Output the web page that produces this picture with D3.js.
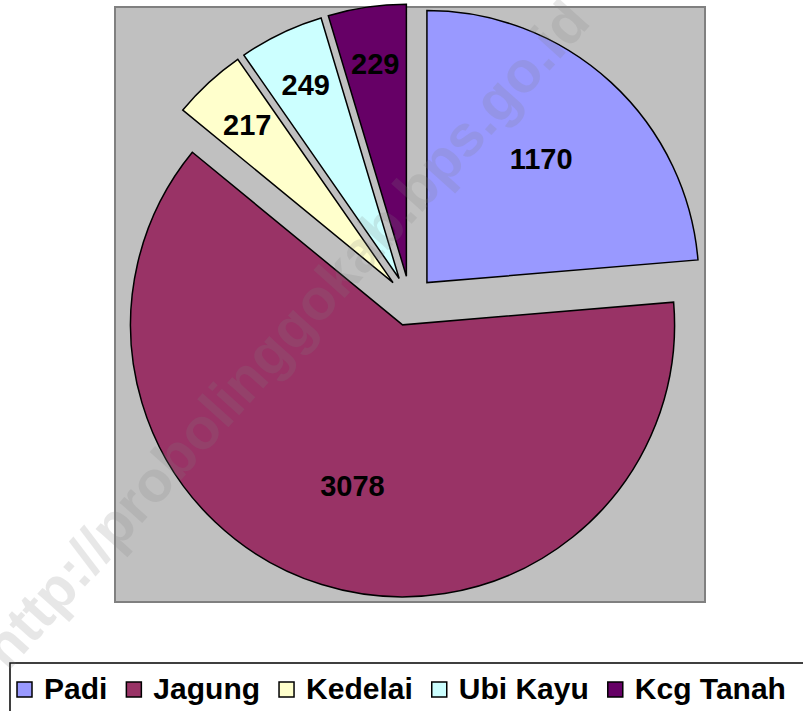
<!DOCTYPE html>
<html>
<head>
<meta charset="utf-8">
<script src="https://cdn.jsdelivr.net/npm/d3@7"></script>
<style>
  body { margin: 0; background: #fff; overflow: hidden; }
  svg { display: block; }
</style>
</head>
<body>
<script>
const categories = ["Padi", "Jagung", "Kedelai", "Ubi Kayu", "Kcg Tanah"];
const values = [1170, 3078, 217, 249, 229];
const colors = ["#9999FF", "#993366", "#FFFFCC", "#CCFFFF", "#660066"];

const w = 803, h = 711;
const cx = 410, cy = 301, radius = 272, explode = 25;
const font = "Liberation Sans, Arial, sans-serif";

const svg = d3.select("body").append("svg")
  .attr("width", w)
  .attr("height", h);

// plot area
svg.append("rect")
  .attr("x", 115).attr("y", 7)
  .attr("width", 590).attr("height", 595)
  .attr("fill", "#C0C0C0")
  .attr("stroke", "#808080")
  .attr("stroke-width", 2);

const data = categories.map((c, i) => ({ name: c, value: values[i], color: colors[i] }));

const pie = d3.pie().sort(null).value(d => d.value);
const arcs = pie(data);
const arc = d3.arc().innerRadius(0).outerRadius(radius);

const g = svg.append("g").attr("transform", `translate(${cx},${cy})`);

const slice = g.selectAll("g.slice")
  .data(arcs)
  .enter()
  .append("g")
  .attr("class", "slice")
  .attr("transform", d => {
    const a = (d.startAngle + d.endAngle) / 2;
    return `translate(${explode * Math.sin(a)},${-explode * Math.cos(a)})`;
  });

slice.append("path")
  .attr("d", arc)
  .attr("fill", d => d.data.color)
  .attr("stroke", "#000")
  .attr("stroke-width", 1.5);

slice.append("text")
  .attr("transform", d => {
    const a = (d.startAngle + d.endAngle) / 2;
    const lr = (d.endAngle - d.startAngle) > 1 ? radius * 0.62 : radius * 0.79;
    return `translate(${lr * Math.sin(a)},${-lr * Math.cos(a)})`;
  })
  .attr("text-anchor", "middle")
  .attr("dy", "0.36em")
  .attr("font-family", font)
  .attr("font-weight", "bold")
  .attr("font-size", 29)
  .attr("fill", "#000")
  .text(d => d.data.value);

// legend
const legend = svg.append("g");
legend.append("rect")
  .attr("x", 10).attr("y", 663)
  .attr("width", 820).attr("height", 70)
  .attr("fill", "#fff")
  .attr("stroke", "#000")
  .attr("stroke-width", 1.5);

let lx = 17;
data.forEach(d => {
  legend.append("rect")
    .attr("x", lx).attr("y", 682)
    .attr("width", 15).attr("height", 15)
    .attr("fill", d.color)
    .attr("stroke", "#000")
    .attr("stroke-width", 1.5);
  const t = legend.append("text")
    .attr("x", lx + 27).attr("y", 699)
    .attr("font-family", font)
    .attr("font-weight", "bold")
    .attr("font-size", 30)
    .attr("fill", "#000")
    .text(d.name);
  lx += 27 + t.node().getComputedTextLength() + 19;
});

// watermark
svg.append("text")
  .attr("transform", "translate(8,672) rotate(-48)")
  .attr("font-family", font)
  .attr("font-weight", "bold")
  .attr("font-size", 58)
  .attr("fill", "#808080")
  .attr("opacity", 0.18)
  .text("http://probolinggokab.bps.go.id");
</script>
</body>
</html>
